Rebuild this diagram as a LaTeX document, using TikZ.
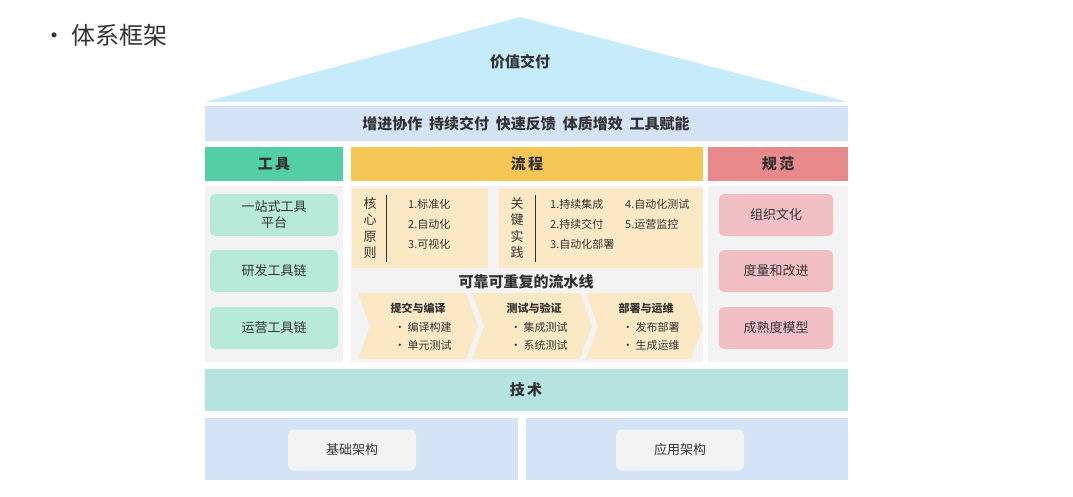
\documentclass[tikz,border=0pt]{standalone}
\usepackage{fontspec}
\setmainfont{Noto Sans CJK SC}
\newfontfamily\cjkbold{Noto Sans CJK SC Bold}
\usetikzlibrary{positioning}
\definecolor{roofblue}{RGB}{198,235,250}
\definecolor{bandblue}{RGB}{213,227,247}
\definecolor{toolgreen}{RGB}{82,207,164}
\definecolor{toolbox}{RGB}{184,234,218}
\definecolor{flowyellow}{RGB}{244,198,83}
\definecolor{flowbox}{RGB}{251,233,198}
\definecolor{specred}{RGB}{232,137,139}
\definecolor{specbox}{RGB}{242,192,196}
\definecolor{techteal}{RGB}{180,227,224}
\definecolor{panelgray}{RGB}{243,243,243}
\definecolor{txt}{RGB}{51,51,51}
\tikzset{
	header/.style={inner sep=0pt, font=\fontsize{15}{15}\selectfont\bfseries, text=txt},
	item/.style={rounded corners=5pt, inner sep=0pt, minimum width=128pt, minimum height=42pt, align=center, font=\fontsize{13}{16}\selectfont, text=txt},
	small/.style={font=\fontsize{11}{14}\selectfont, text=txt, inner sep=0pt, align=left},
	chevron/.style={fill=flowbox, draw=none}
}
\begin{document}
\begin{tikzpicture}[x=1pt,y=-1pt]
	\useasboundingbox (0,0) rectangle (1073,497);
	
	\node(title) at (105,35) [font=\fontsize{24}{24}\selectfont, text=txt] {· 体系框架};
	
	% roof
	\fill[roofblue] (520,17) -- (848,102) -- (205,102) -- cycle;
	\node(roof) at (520,62) [header] {价值交付};
	\fill[bandblue] (205,106) rectangle (848,141);
	\node(goals) at (526,124) [header] {增进协作\ \ 持续交付\ \ 快速反馈\ \ 体质增效\ \ 工具赋能};
	
	% headers
	\fill[toolgreen] (205,147) rectangle (343,181);
	\fill[flowyellow] (351,147) rectangle (703,181);
	\fill[specred] (708,147) rectangle (848,181);
	\node(h_tool) at (274,164) [header] {工\,具};
	\node(h_flow) at (527,164) [header] {流\,程};
	\node(h_spec) at (778,164) [header] {规\,范};
	
	% panels
	\fill[panelgray] (205,186) rectangle (343,362);
	\fill[panelgray] (351,186) rectangle (703,362);
	\fill[panelgray] (708,186) rectangle (848,362);
	
	\node(tool1) at (274,215) [item, fill=toolbox] {一站式工具\\平台};
	\node(tool2) at (274,271) [item, fill=toolbox] {研发工具链};
	\node(tool3) at (274,328) [item, fill=toolbox] {运营工具链};
	
	\node(spec1) at (776,215) [item, fill=specbox, minimum width=114pt] {组织文化};
	\node(spec2) at (776,271) [item, fill=specbox, minimum width=114pt] {度量和改进};
	\node(spec3) at (776,328) [item, fill=specbox, minimum width=114pt] {成熟度模型};
	
	% principles and practices
	\fill[flowbox] (352,188) rectangle (488,268);
	\fill[flowbox] (499,188) rectangle (703,268);
	\node(core) at (370,228) [font=\fontsize{13}{16.5}\selectfont, text=txt, align=center, inner sep=0pt] {核\\心\\原\\则};
	\draw[txt] (386,195) -- (386,262);
	\node(core_list) at (408,224) [small, anchor=west, font=\fontsize{11}{20}\selectfont] {1.标准化\\2.自动化\\3.可视化};
	\node(key) at (517,228) [font=\fontsize{13}{16.5}\selectfont, text=txt, align=center, inner sep=0pt] {关\\键\\实\\践};
	\draw[txt] (535,195) -- (535,262);
	\node(key_list1) at (550,224) [small, anchor=west, font=\fontsize{11}{20}\selectfont] {1.持续集成\\2.持续交付\\3.自动化部署};
	\node(key_list2) at (625,214) [small, anchor=west, font=\fontsize{11}{20}\selectfont] {4.自动化测试\\5.运营监控};
	
	% pipeline
	\node(pipe) at (526,282) [header, font=\fontsize{15}{15}\selectfont\bfseries] {可靠可重复的流水线};
	\fill[chevron] (358,293) -- (466,293) -- (478,326) -- (466,359) -- (358,359) -- (370,326) -- cycle;
	\fill[chevron] (472,293) -- (580,293) -- (592,326) -- (580,359) -- (472,359) -- (484,326) -- cycle;
	\fill[chevron] (586,293) -- (691,293) -- (703,326) -- (691,359) -- (586,359) -- (598,326) -- cycle;
	\node(st1) at (418,308) [small, font=\fontsize{11}{11}\selectfont\bfseries] {提交与编译};
	\node(st1_list) at (423,336) [small, font=\fontsize{11}{18}\selectfont] {· 编译构建\\· 单元测试};
	\node(st2) at (534,308) [small, font=\fontsize{11}{11}\selectfont\bfseries] {测试与验证};
	\node(st2_list) at (539,336) [small, font=\fontsize{11}{18}\selectfont] {· 集成测试\\· 系统测试};
	\node(st3) at (646,308) [small, font=\fontsize{11}{11}\selectfont\bfseries] {部署与运维};
	\node(st3_list) at (651,336) [small, font=\fontsize{11}{18}\selectfont] {· 发布部署\\· 生成运维};
	
	% technology
	\fill[techteal] (205,369) rectangle (848,411);
	\node(tech) at (526,390) [header] {技\,术};
	\fill[bandblue] (205,418) rectangle (518,480);
	\fill[bandblue] (526,418) rectangle (848,480);
	\node(base) at (352,450) [item, fill=panelgray, minimum height=41pt] {基础架构};
	\node(app) at (680,450) [item, fill=panelgray, minimum height=41pt] {应用架构};
\end{tikzpicture}
\end{document}
